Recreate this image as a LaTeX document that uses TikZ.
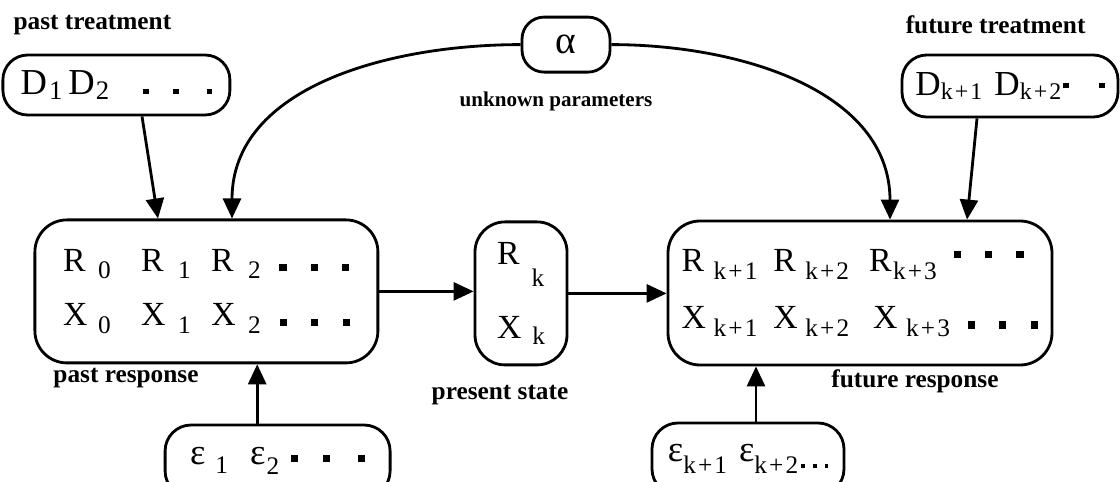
\documentclass[tikz,border=0pt]{standalone}
\usepackage{fontspec}
\setmainfont{Liberation Serif}
\usetikzlibrary{arrows.meta}
\usetikzlibrary{calc}

\newcommand{\subsz}{\fontsize{18}{18}\selectfont}
\newcommand{\lo}[2][5.5pt]{\raisebox{-#1}{\subsz #2}}
\newcommand{\kp}[1]{k\kern1.5pt+\kern1.5pt#1}
\newcommand{\sqr}[1][0pt]{\raisebox{#1}{\rule{5pt}{5pt}}}
\newcommand{\sqs}[1][0pt]{\raisebox{#1}{\rule{4pt}{4pt}}}

\begin{document}
\begin{tikzpicture}[box/.style={draw, line width=2pt, inner sep=0pt, align=left, font=\fontsize{24}{39}\selectfont}, lbl/.style={font=\bfseries\fontsize{18}{18}\selectfont, inner sep=0pt}, arr/.style={line width=2pt, -{Triangle[length=0.5cm,width=0.45cm]}}]
\useasboundingbox (0,0) rectangle (28,12.025);

\node[lbl] (pastTl) at (2.31,11.4) {past treatment};
\node[lbl] (futTl) at (24.89,11.4) {future treatment};
\node[lbl, font=\bfseries\fontsize{15}{15}\selectfont] (alphal) at (13.9,9.5) {unknown parameters};
\node[lbl] (pastRl) at (3.15,2.575) {past response};
\node[lbl] (statel) at (12.5,2.15) {present state};
\node[lbl] (futRl) at (22.875,2.5) {future response};

\node[box, rounded corners=0.62cm, minimum width=5.675cm, minimum height=1.5cm, font=\fontsize{26}{30}\selectfont] (pastD) at (2.91,9.9) {D\hspace{0.05cm}\lo[4pt]{\fontsize{19}{19}\selectfont 1}\hspace{0.15cm}D\hspace{0.03cm}\lo[4pt]{\fontsize{19}{19}\selectfont 2}\hspace{0.85cm}\sqs\hspace{0.6cm}\sqs\hspace{0.7cm}\sqs};
\node[box, rounded corners=0.55cm, minimum width=2.2cm, minimum height=1.375cm, align=center, font=\fontsize{28}{30}\selectfont] (alpha) at (14.15,10.91) {α};
\node[box, rounded corners=0.62cm, minimum width=5.4cm, minimum height=1.55cm, font=\fontsize{25}{30}\selectfont] (futD) at (25.25,9.875) {D\lo[3pt]{\fontsize{17}{17}\selectfont\kp{1}}\hspace{0.3cm}D\lo[3pt]{\fontsize{17}{17}\selectfont\kp{2}}\hspace{0.05cm}\sqs[5pt]\hspace{0.75cm}\sqs[5pt]};

\node[box, rounded corners=0.8cm, minimum width=8.575cm, minimum height=3.575cm] (pastR) at (5.16,4.74) {R\hspace{0.31cm}\lo{0}\hspace{0.76cm}R\hspace{0.36cm}\lo{1}\hspace{0.51cm}R\hspace{0.36cm}\lo{2}\hspace{0.47cm}\sqr\hspace{0.6cm}\sqr\hspace{0.62cm}\sqr\\X\hspace{0.265cm}\lo{0}\hspace{0.76cm}X\hspace{0.315cm}\lo{1}\hspace{0.51cm}X\hspace{0.315cm}\lo{2}\hspace{0.47cm}\sqr\hspace{0.6cm}\sqr\hspace{0.62cm}\sqr};
\node[box, rounded corners=0.75cm, minimum width=2.3cm, minimum height=3.575cm, font=\fontsize{24}{53}\selectfont] (state) at (13.025,4.69) {R\hspace{0.3cm}\lo[16pt]{k}\\X\hspace{0.27cm}\lo[4pt]{k}};
\node[box, rounded corners=0.8cm, minimum width=9.6cm, minimum height=3.6cm, font=\fontsize{24}{40.5}\selectfont] (futR) at (21.5,4.7) {R\hspace{0.235cm}\lo{\kp{1}}\hspace{0.4cm}R\hspace{0.235cm}\lo{\kp{2}}\hspace{0.5cm}R\hspace{0.035cm}\lo{\kp{3}}\hspace{0.44cm}\sqr[9.5pt]\hspace{0.6cm}\sqr[9.5pt]\hspace{0.6cm}\sqr[9.5pt]\\X\hspace{0.19cm}\lo{\kp{1}}\hspace{0.4cm}X\hspace{0.19cm}\lo{\kp{2}}\hspace{0.6cm}X\hspace{0.215cm}\lo{\kp{3}}\hspace{0.46cm}\sqr\hspace{0.6cm}\sqr\hspace{0.62cm}\sqr};

\node[box, rounded corners=0.65cm, minimum width=5.625cm, minimum height=1.8cm, font=\fontsize{26}{30}\selectfont] (pastE) at (6.94,0.5) {ε\hspace{0.25cm}\lo[6pt]{1}\hspace{0.55cm}ε\hspace{0.03cm}\lo[7pt]{2}\hspace{0.3cm}\sqr[2pt]\hspace{0.62cm}\sqr[2pt]\hspace{0.7cm}\sqr[2pt]};
\node[box, rounded corners=0.65cm, minimum width=4.8cm, minimum height=1.8cm, font=\fontsize{26}{30}\selectfont] (futE) at (18.7,0.55) {ε\lo[8pt]{\kp{1}}\hspace{0.3cm}ε\lo[8pt]{\kp{2}}\hspace{0.08cm}\raisebox{-4pt}{\rule{2.5pt}{2.5pt}}\hspace{0.2cm}\raisebox{-4pt}{\rule{2.5pt}{2.5pt}}\hspace{0.2cm}\raisebox{-4pt}{\rule{2.5pt}{2.5pt}}};

\draw[arr] ([xshift=0.64cm]pastD.south) -- ([xshift=-1.21cm]pastR.north);
\draw[arr] (alpha.west) to[out=180, in=90] ([xshift=0.64cm]pastR.north);
\draw[arr] (alpha.east) to[out=0, in=90] ([xshift=0.75cm]futR.north);
\draw[arr] ([xshift=-0.825cm]futD.south) -- ([xshift=2.675cm]futR.north);
\draw[arr] (pastR.east) -- (pastR.east -| state.west);
\draw[arr] (state.east) -- (state.east -| futR.west);
\draw[arr] ([xshift=-0.51cm]pastE.north) -- ([xshift=-0.51cm]pastE.north |- pastR.south);
\draw[arr] ([xshift=0.2cm]futE.north) -- ([xshift=0.2cm]futE.north |- futR.south);
\end{tikzpicture}
\end{document}
